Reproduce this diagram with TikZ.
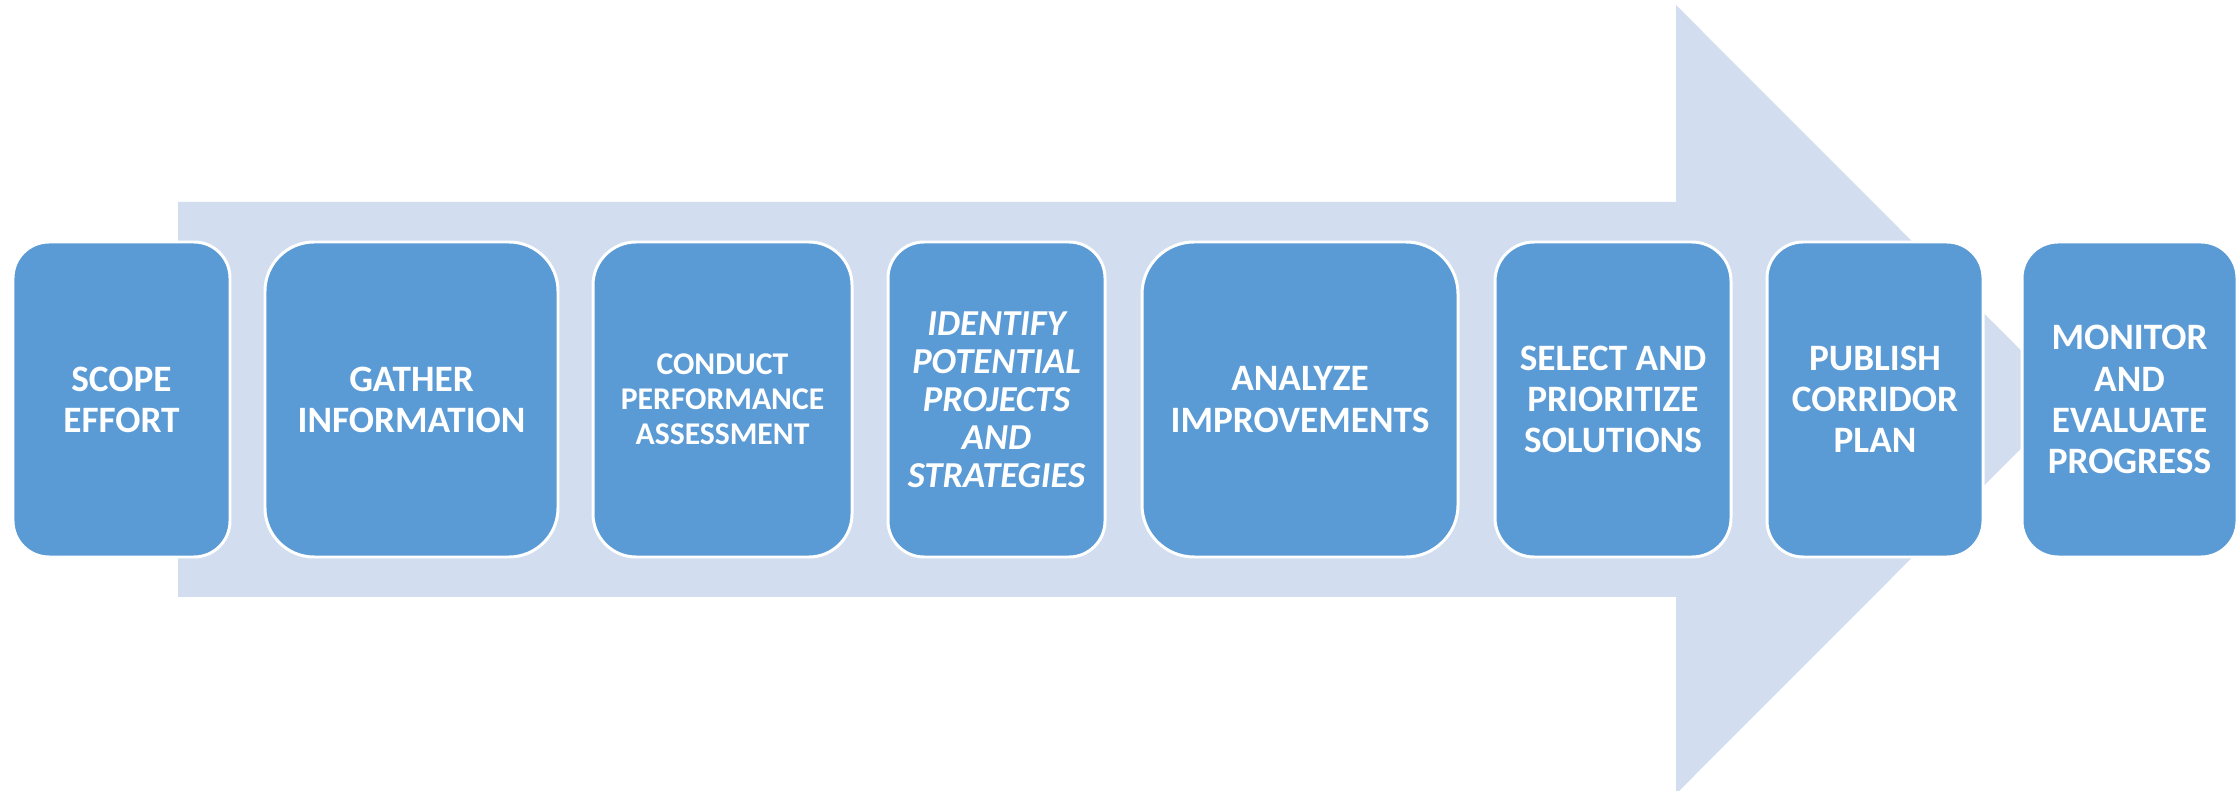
\documentclass[tikz,border=0pt]{standalone}
\usepackage{fontspec}
\setmainfont{Carlito}
\definecolor{boxcol}{RGB}{91,155,213}
\definecolor{arrcol}{RGB}{210,222,239}
\tikzset{every picture/.style={x=0.1mm,y=-0.1mm}}
\tikzset{stepbox/.style={rectangle,fill=boxcol,draw=white,line width=0.85pt,text=white,align=center,inner sep=0pt,minimum height=31.5mm,font=\bfseries\fontsize{10.6}{11.7}\selectfont}}
\tikzset{small/.style={font=\bfseries\fontsize{9}{9.96}\selectfont}}
\tikzset{slant/.style={font=\bfseries\itshape\fontsize{10.4}{10.8}\selectfont}}

\begin{document}
\begin{tikzpicture}
\useasboundingbox (0,0) rectangle (2238,791);
% big arrow behind the steps
\fill [arrcol] (178,202) -- (1676,202) -- (1676,5) -- (2070,399.5) -- (1676,794) -- (1676,597) -- (178,597) -- cycle;
\node [stepbox,minimum width=21.7mm,rounded corners=3.6mm] (scope) at (121.5,399.5) {SCOPE\\EFFORT};
\node [stepbox,minimum width=29.3mm,rounded corners=4.9mm] (gather) at (411.5,399.5) {GATHER\\INFORMATION};
\node [stepbox,small,minimum width=25.9mm,rounded corners=4.3mm] (conduct) at (722.5,399.5) {CONDUCT\\PERFORMANCE\\ASSESSMENT};
\node [stepbox,slant,minimum width=21.7mm,rounded corners=3.6mm] (identify) at (996.5,399.5) {IDENTIFY\\POTENTIAL\\PROJECTS\\AND\\STRATEGIES};
\node [stepbox,minimum width=31.6mm,rounded corners=5.2mm] (analyze) at (1300,399.5) {ANALYZE\\IMPROVEMENTS};
\node [stepbox,minimum width=23.6mm,rounded corners=3.9mm] (select) at (1613,399.5) {SELECT AND\\PRIORITIZE\\SOLUTIONS};
\node [stepbox,minimum width=21.6mm,rounded corners=3.6mm] (publish) at (1875,399.5) {PUBLISH\\CORRIDOR\\PLAN};
\node [stepbox,minimum width=21.5mm,rounded corners=3.6mm] (monitor) at (2129.5,399.5) {MONITOR\\AND\\EVALUATE\\PROGRESS};
\end{tikzpicture}
\end{document}
